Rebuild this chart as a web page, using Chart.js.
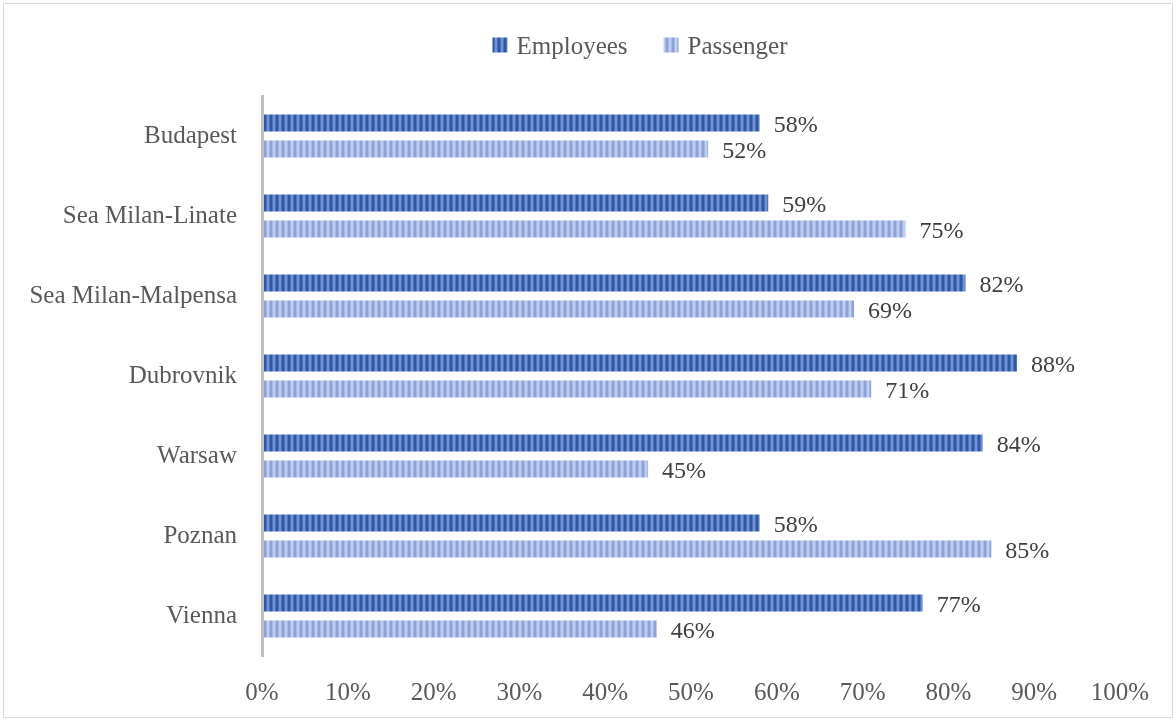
<!DOCTYPE html>
<html>
<head>
<meta charset="utf-8">
<title>Employees vs Passenger</title>
<script src="https://cdn.jsdelivr.net/npm/chart.js@4/dist/chart.umd.min.js"></script>
<style>
  html, body { margin: 0; padding: 0; background: #fff; }
  #wrap { width: 1176px; height: 721px; }
</style>
</head>
<body>
<div id="wrap"><canvas id="airportChart" width="1176" height="721"></canvas></div>
<script>
const airports = ['Budapest', 'Sea Milan-Linate', 'Sea Milan-Malpensa', 'Dubrovnik', 'Warsaw', 'Poznan', 'Vienna'];
const employees = [58, 59, 82, 88, 84, 58, 77];
const passenger = [52, 75, 69, 71, 45, 85, 46];
const xTicks = [0, 10, 20, 30, 40, 50, 60, 70, 80, 90, 100];

const FONT = '"Liberation Serif", "Times New Roman", serif';

// vertical stripe fill, one colour per pixel column
function stripes(cols) {
  const c = document.createElement('canvas');
  c.width = cols.length;
  c.height = 1;
  const g = c.getContext('2d');
  cols.forEach((col, i) => { g.fillStyle = col; g.fillRect(i, 0, 1, 1); });
  return g.createPattern(c, 'repeat');
}

const empFill = stripes(['#2E57A6', '#2E57A6', '#4C73C0', '#7392D0', '#7392D0', '#4C73C0']);
const pasFill = stripes(['#8CA2D9', '#8CA2D9', '#A4B6E3', '#C2CEED', '#C2CEED', '#A4B6E3']);

// white background + thin frame
const framePlugin = {
  id: 'frame',
  beforeDraw(chart) {
    const ctx = chart.ctx;
    ctx.save();
    ctx.fillStyle = '#fff';
    ctx.fillRect(0, 0, chart.width, chart.height);
    ctx.strokeStyle = '#D9D9D9';
    ctx.lineWidth = 1;
    ctx.strokeRect(3.5, 3.5, chart.width - 7, chart.height - 7);
    ctx.restore();
  }
};

// percentage next to each bar end
const valueLabels = {
  id: 'valueLabels',
  afterDatasetsDraw(chart) {
    const ctx = chart.ctx;
    ctx.save();
    ctx.font = '24px ' + FONT;
    ctx.fillStyle = '#404040';
    ctx.textAlign = 'left';
    ctx.textBaseline = 'middle';
    chart.data.datasets.forEach((ds, i) => {
      chart.getDatasetMeta(i).data.forEach((bar, j) => {
        ctx.fillText(ds.data[j] + '%', bar.x + 14, bar.y + 3);
      });
    });
    ctx.restore();
  }
};

// legend row above the plot, centred a bit right of the canvas middle
const topLegend = {
  id: 'topLegend',
  afterDraw(chart) {
    const ctx = chart.ctx;
    const box = 15, gapText = 9, gapItem = 36, cy = 45;
    ctx.save();
    ctx.font = '25px ' + FONT;
    ctx.textBaseline = 'middle';
    ctx.textAlign = 'left';
    const items = chart.data.datasets.map(ds => ({
      label: ds.label, fill: ds.backgroundColor, w: ctx.measureText(ds.label).width
    }));
    const total = items.reduce((s, it) => s + box + gapText + it.w, 0) + gapItem * (items.length - 1);
    let x = 640 - total / 2;
    items.forEach(it => {
      ctx.fillStyle = it.fill;
      ctx.fillRect(x, cy - box / 2, box, box);
      ctx.fillStyle = '#595959';
      ctx.fillText(it.label, x + box + gapText, cy + 2);
      x += box + gapText + it.w + gapItem;
    });
    ctx.restore();
  }
};

const ctx = document.getElementById('airportChart').getContext('2d');

new Chart(ctx, {
  type: 'bar',
  data: {
    labels: airports,
    datasets: [
      { label: 'Employees', data: employees, backgroundColor: empFill, borderWidth: 0 },
      { label: 'Passenger', data: passenger, backgroundColor: pasFill, borderWidth: 0 }
    ]
  },
  options: {
    indexAxis: 'y',
    responsive: false,
    animation: false,
    categoryPercentage: 0.65,
    barPercentage: 0.66,
    layout: { padding: { left: 0, right: 56, top: 96, bottom: 0 } },
    plugins: {
      tooltip: { enabled: false },
      legend: { display: false }
    },
    scales: {
      x: {
        min: 0,
        max: 100,
        afterBuildTicks(scale) {
          scale.ticks = xTicks.map(v => ({ value: v }));
        },
        afterFit(scale) { scale.height = 65; },
        grid: { display: false },
        border: { display: false },
        ticks: {
          callback: v => v + '%',
          font: { family: FONT, size: 25 },
          color: '#595959',
          padding: 14
        }
      },
      y: {
        afterFit(scale) { scale.width = 262; },
        grid: { display: false },
        border: { display: true, color: '#BFBFBF', width: 3, z: 1 },
        ticks: {
          font: { family: FONT, size: 25 },
          color: '#595959',
          padding: 17
        }
      }
    }
  },
  plugins: [framePlugin, valueLabels, topLegend]
});
</script>
</body>
</html>
